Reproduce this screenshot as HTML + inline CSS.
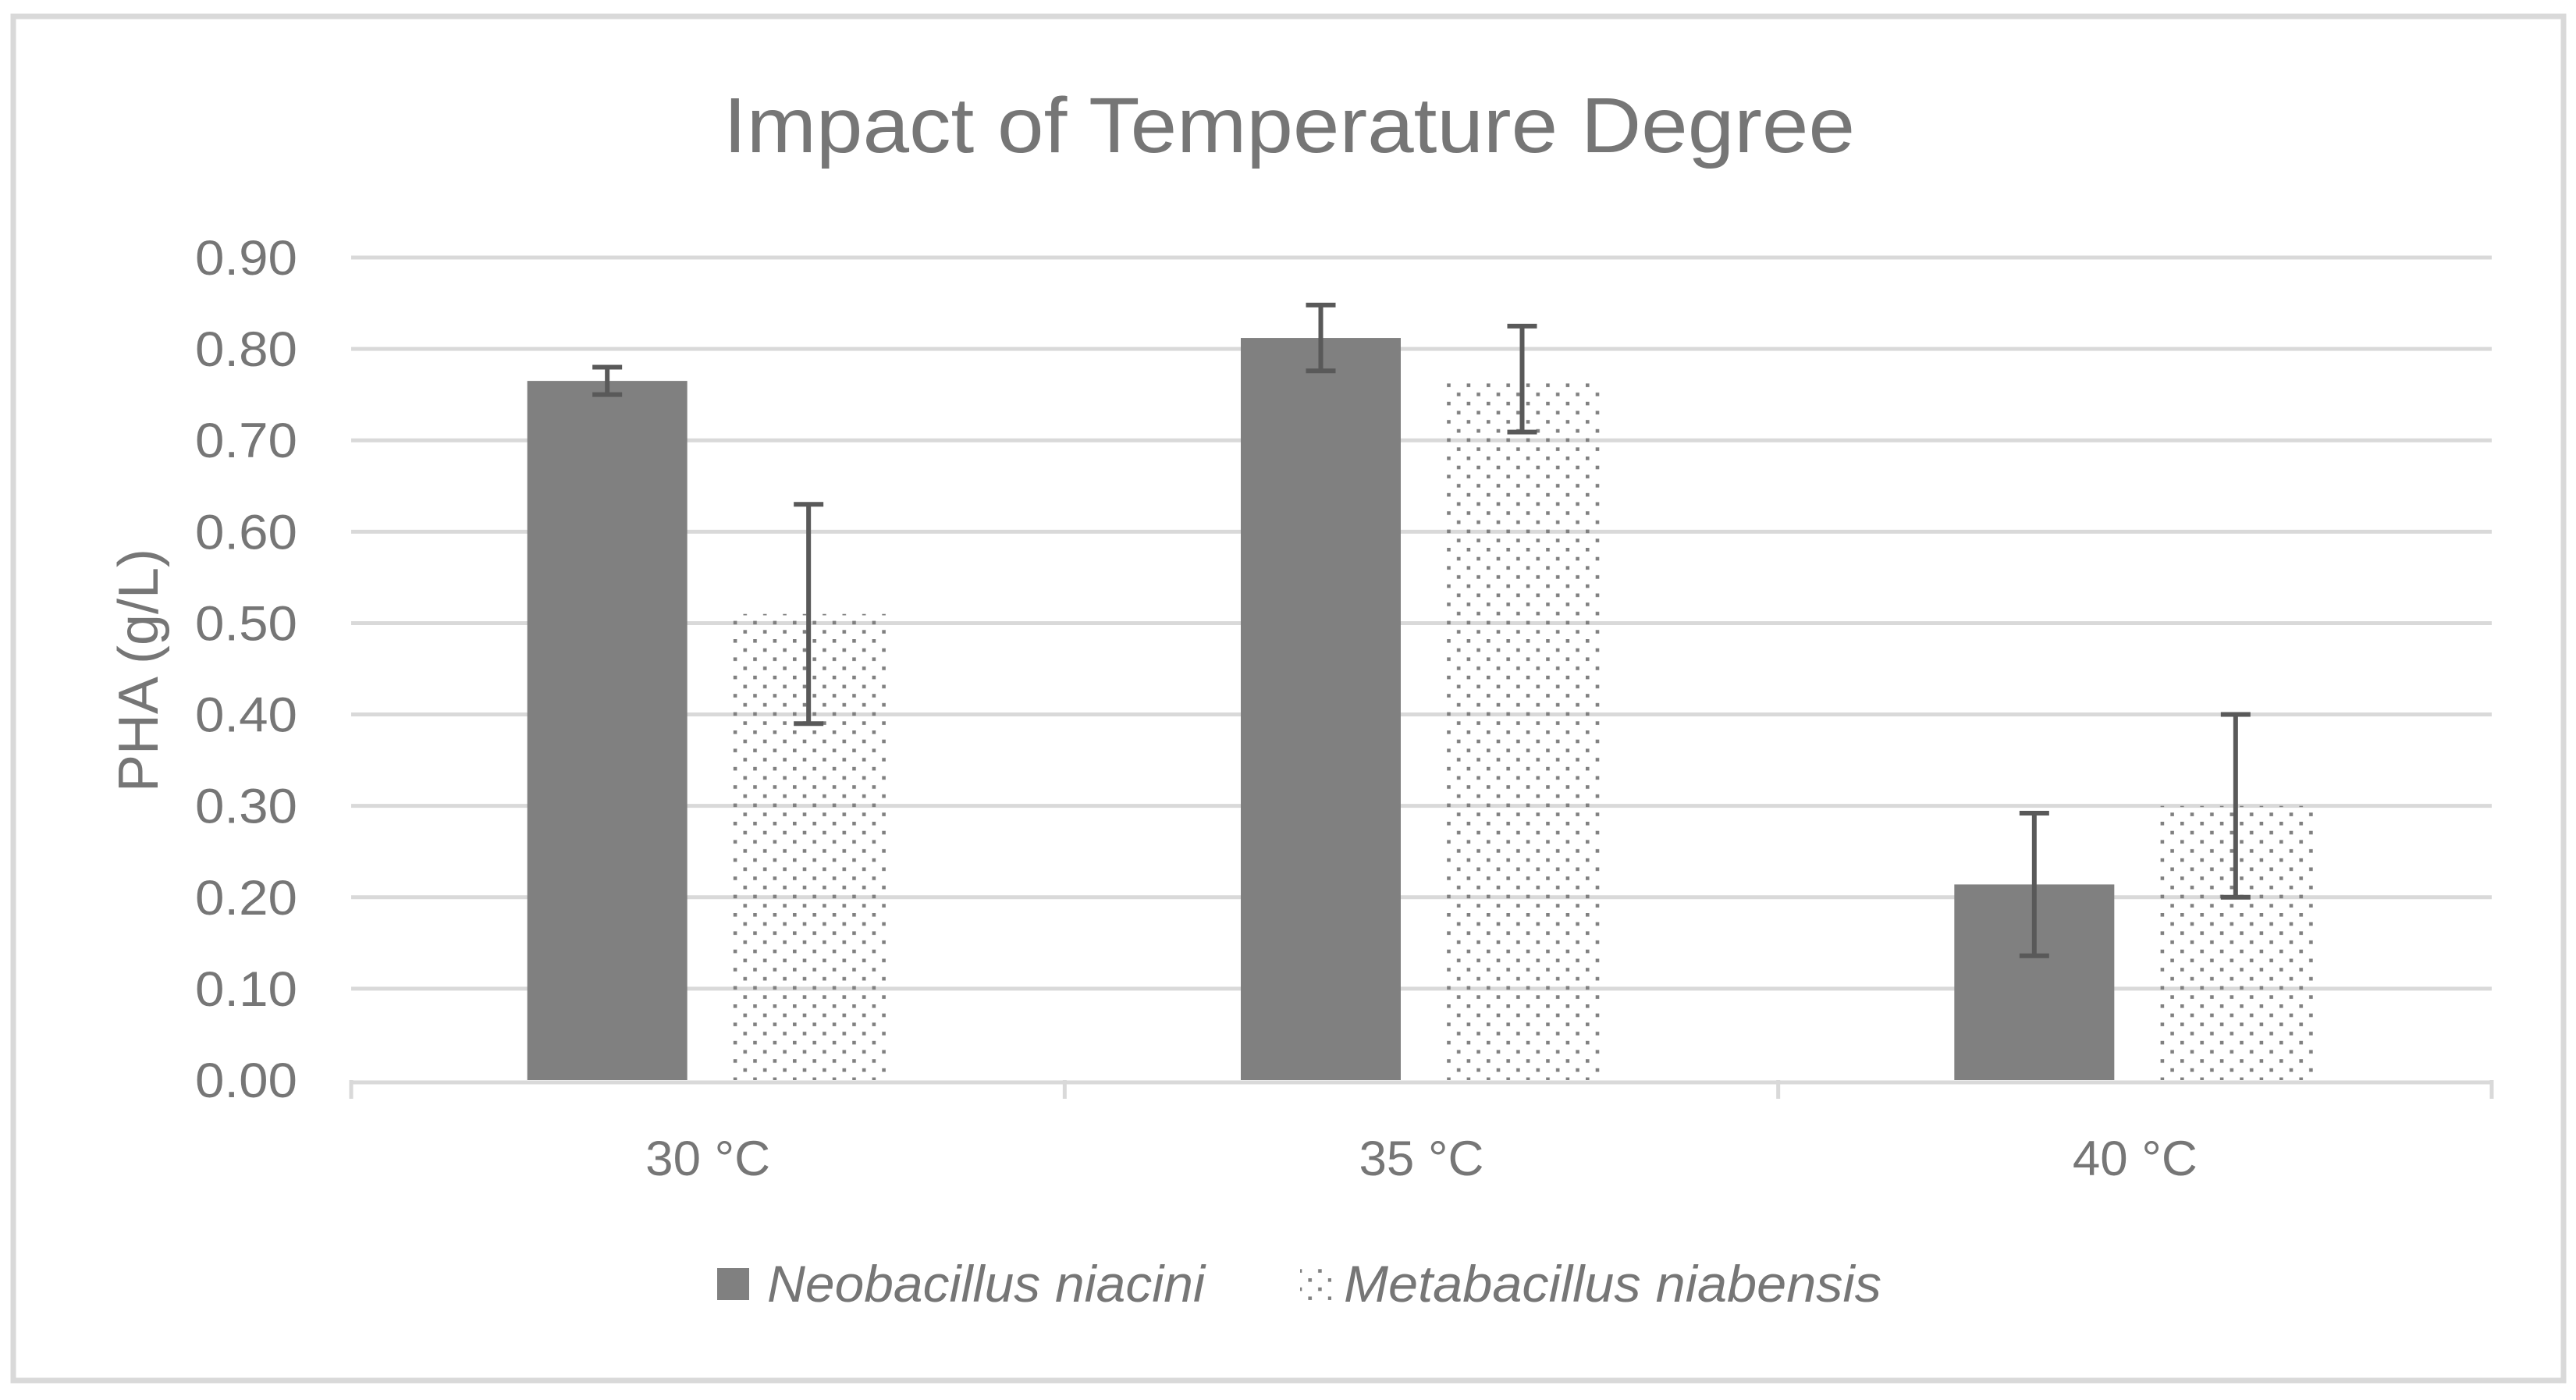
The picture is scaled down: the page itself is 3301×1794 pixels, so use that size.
<!DOCTYPE html>
<html><head><meta charset="utf-8"><style>
html,body{margin:0;padding:0;background:#fff}
svg{display:block;font-family:"Liberation Sans",sans-serif}
</style></head><body>
<svg id="chart" width="3301" height="1794" viewBox="0 0 3301 1794">
<defs>
<pattern id="dots" patternUnits="userSpaceOnUse" width="25.4" height="23.4">
<rect x="0" y="0" width="4.6" height="4.6" fill="#808080"/>
<rect x="12.7" y="11.7" width="4.6" height="4.6" fill="#808080"/>
</pattern>
</defs>
<rect x="17" y="21" width="3268" height="1748" fill="#fff" stroke="#d9d9d9" stroke-width="7"/>
<text x="1652" y="195" text-anchor="middle" font-size="100" fill="#767676" textLength="1450" lengthAdjust="spacingAndGlyphs">Impact of Temperature Degree</text>
<g id="grid"></g><g id="bars"></g><g id="errs"></g><g id="axis"></g>
<text transform="translate(202,859) rotate(-90)" text-anchor="middle" font-size="72" fill="#767676" textLength="312" lengthAdjust="spacingAndGlyphs">PHA (g/L)</text>
<g>
<rect x="919" y="1625" width="41" height="41" fill="#808080"/>
<text x="983" y="1668" font-size="66" font-style="italic" fill="#767676" textLength="561" lengthAdjust="spacingAndGlyphs">Neobacillus niacini</text>
<rect x="1666" y="1625" width="40" height="41" fill="url(#dots)"/>
<text x="1722" y="1668" font-size="66" font-style="italic" fill="#767676" textLength="689" lengthAdjust="spacingAndGlyphs">Metabacillus niabensis</text>
</g>
</svg>
<script>
const categories = ["30 °C", "35 °C", "40 °C"];
const neoValues = [0.765, 0.812, 0.214];
const neoErrors = [0.015, 0.036, 0.078];
const metaValues = [0.510, 0.767, 0.300];
const metaErrors = [0.120, 0.058, 0.100];
const yTicks = [0, 0.1, 0.2, 0.3, 0.4, 0.5, 0.6, 0.7, 0.8, 0.9];
const yTickLabels = ["0.00","0.10","0.20","0.30","0.40","0.50","0.60","0.70","0.80","0.90"];

const NS = "http://www.w3.org/2000/svg";
const X0 = 450, X1 = 3193, Y0 = 1384, YTOP = 330, YMAX = 0.9;
const y = v => Y0 - (v / YMAX) * (Y0 - YTOP);
const bandW = (X1 - X0) / categories.length;
const xc = i => X0 + bandW * (i + 0.5);
function mk(tag, attrs, parent, txt) {
  const el = document.createElementNS(NS, tag);
  for (const k in attrs) el.setAttribute(k, attrs[k]);
  if (txt !== undefined) el.textContent = txt;
  document.getElementById(parent).appendChild(el);
  return el;
}
yTicks.forEach((t, i) => {
  if (i > 0) {
    const g = mk("line", {x1: X0, x2: X1, y1: y(t), y2: y(t), stroke: "#d9d9d9", "stroke-width": 5}, "grid");
    
    
  }
  const l = mk("text", {x: 381, y: y(t) + 22, "text-anchor": "end", "font-size": 63, fill: "#767676", textLength: 131, lengthAdjust: "spacingAndGlyphs"}, "axis", yTickLabels[i]);
  
  
});
const BW = 205, OFF = 129;
categories.forEach((c, i) => {
  const b1 = mk("rect", {x: xc(i) - OFF - BW / 2, y: y(neoValues[i]), width: BW, height: Y0 - y(neoValues[i]), fill: "#808080"}, "bars");
  
  
  const b2 = mk("rect", {x: xc(i) + OFF - BW / 2, y: y(metaValues[i]), width: BW, height: Y0 - y(metaValues[i]), fill: "url(#dots)"}, "bars");
  
  
  [[xc(i) - OFF, neoValues[i], neoErrors[i]], [xc(i) + OFF, metaValues[i], metaErrors[i]]].forEach(([cx, v, e]) => {
    const hi = y(v + e), lo = y(v - e);
    const p = mk("path", {d: `M${cx},${hi}V${lo}M${cx - 19},${hi}H${cx + 19}M${cx - 19},${lo}H${cx + 19}`, stroke: "#595959", "stroke-width": 6, fill: "none"}, "errs");
    
    
  });
  const t = mk("text", {x: xc(i), y: 1506, "text-anchor": "middle", "font-size": 63, fill: "#767676", textLength: 160, lengthAdjust: "spacingAndGlyphs"}, "axis", c);
  
  
});
const ax = mk("line", {x1: X0, x2: X1, y1: Y0 + 3, y2: Y0 + 3, stroke: "#d9d9d9", "stroke-width": 5}, "axis");


for (let i = 0; i <= categories.length; i++) {
  const tk = mk("line", {x1: X0 + bandW * i, x2: X0 + bandW * i, y1: Y0, y2: Y0 + 24, stroke: "#d9d9d9", "stroke-width": 5}, "axis");
  
  
}
</script>
</body></html>
